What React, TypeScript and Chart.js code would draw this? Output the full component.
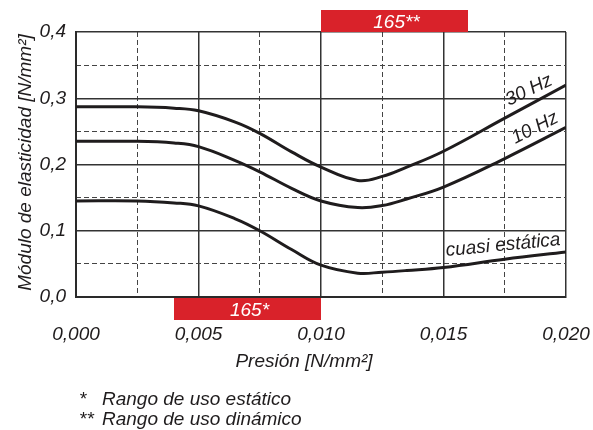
import React, { useEffect, useRef } from 'react';
import { Chart, registerables } from 'chart.js';

Chart.register(...registerables);

// ---- data ----
const pressure = [0, 0.0025, 0.004, 0.005, 0.0065, 0.0075, 0.0088, 0.010, 0.0115, 0.0125, 0.0135, 0.015, 0.0175, 0.020];
const hz30 = [0.287, 0.287, 0.285, 0.281, 0.264, 0.247, 0.219, 0.196, 0.176, 0.182, 0.196, 0.220, 0.270, 0.320];
const hz10 = [0.235, 0.235, 0.2325, 0.227, 0.206, 0.189, 0.164, 0.145, 0.135, 0.138, 0.148, 0.166, 0.209, 0.256];
const quasi = [0.145, 0.145, 0.142, 0.1375, 0.118, 0.100, 0.0716, 0.048, 0.036, 0.0375, 0.040, 0.0445, 0.057, 0.068];

const xTickLabels = ['0,000', '0,005', '0,010', '0,015', '0,020'];
const yTickLabels = ['0,0', '0,1', '0,2', '0,3', '0,4'];

const seriesNames = ['30 Hz', '10 Hz', 'cuasi estática'];
// curve label anchors (data units) and angles (deg)
const labelX = [0.01849, 0.01873, 0.01743];
const labelY = [0.312, 0.255, 0.078];
const labelAngle = [-26, -27, -5.5];

// usage ranges
const rangeNames = ['165*', '165**'];
const rangeStart = [0.004, 0.010];
const rangeEnd = [0.010, 0.016];
const rangeSide = ['bottom', 'top'];

const xTitle = 'Presión [N/mm²]';
const yTitle = 'Módulo de elasticidad [N/mm²]';
const footnoteMarks = ['*', '**'];
const footnotes = ['Rango de uso estático', 'Rango de uso dinámico'];

const FONT = "'Liberation Sans', Arial, Helvetica, sans-serif";
const INK = '#1f1c1d';
const RED = '#d9222a';

const isMultiple = (v: number, step: number) => Math.abs(v / step - Math.round(v / step)) < 1e-6;

const overlay = {
  id: 'overlay',
  afterDatasetsDraw(chart: any) {
    const ctx = chart.ctx;
    const xs = chart.scales.x;
    const ys = chart.scales.y;
    const area = chart.chartArea;
    ctx.save();
    // curve labels
    ctx.fillStyle = INK;
    ctx.font = `italic 19px ${FONT}`;
    ctx.textAlign = 'center';
    ctx.textBaseline = 'middle';
    seriesNames.forEach((name, i) => {
      const px = xs.getPixelForValue(labelX[i]);
      const py = ys.getPixelForValue(labelY[i]);
      ctx.save();
      ctx.translate(px, py);
      ctx.rotate((labelAngle[i] * Math.PI) / 180);
      ctx.fillText(name, 0, 0);
      ctx.restore();
    });
    // range boxes
    rangeNames.forEach((name, i) => {
      const x0 = xs.getPixelForValue(rangeStart[i]);
      const x1 = xs.getPixelForValue(rangeEnd[i]);
      const h = 22;
      const y0 = rangeSide[i] === 'top' ? area.top - h : area.bottom + 1;
      ctx.fillStyle = RED;
      ctx.fillRect(x0, y0, x1 - x0, h);
      ctx.fillStyle = '#ffffff';
      ctx.font = `italic 19px ${FONT}`;
      ctx.textAlign = 'center';
      ctx.textBaseline = 'alphabetic';
      ctx.fillText(name, (x0 + x1) / 2 + 2, y0 + h - 4);
    });
    ctx.restore();
  },
  afterDraw(chart: any) {
    const ctx = chart.ctx;
    const area = chart.chartArea;
    ctx.save();
    ctx.fillStyle = INK;
    ctx.font = `italic 19px ${FONT}`;
    ctx.textBaseline = 'alphabetic';
    // x title
    ctx.textAlign = 'center';
    ctx.fillText(xTitle, 304, area.bottom + 70);
    // y title
    ctx.save();
    ctx.translate(31, (area.top + area.bottom) / 2 - 2);
    ctx.rotate(-Math.PI / 2);
    ctx.fillText(yTitle, 0, 0);
    ctx.restore();
    // footnotes
    ctx.textAlign = 'left';
    footnotes.forEach((t, i) => {
      const by = 405 + i * 20;
      ctx.fillText(footnoteMarks[i], 79, by);
      ctx.fillText(t, 102, by);
    });
    ctx.restore();
  },
};

export default function App() {
  const ref = useRef<HTMLCanvasElement>(null);
  useEffect(() => {
    document.body.style.margin = '0';
    const canvas = ref.current;
    if (!canvas) return;
    const mk = (vals: number[]) => pressure.map((x, i) => ({ x, y: vals[i] }));
    const ds = (label: string, vals: number[]) => ({
      label,
      data: mk(vals),
      borderColor: INK,
      borderWidth: 3,
      pointRadius: 0,
      fill: false,
      tension: 0.4,
    });
    const chart = new Chart(canvas, {
      type: 'line',
      data: {
        datasets: [ds(seriesNames[0], hz30), ds(seriesNames[1], hz10), ds(seriesNames[2], quasi)],
      },
      options: {
        responsive: false,
        animation: false,
        layout: { padding: { left: 0, right: 27, top: 32, bottom: 0 } },
        plugins: { legend: { display: false }, tooltip: { enabled: false } },
        scales: {
          x: {
            type: 'linear',
            min: 0,
            max: 0.02,
            ticks: {
              stepSize: 0.005,
              color: INK,
              font: { family: FONT, size: 19, style: 'italic' },
              padding: 26,
              maxRotation: 0,
              autoSkip: false,
              callback: (_v: any, i: number) => xTickLabels[i],
            },
            grid: { color: '#333', lineWidth: 1.5, drawTicks: false },
            border: { display: true, color: '#2a2a2a', width: 2 },
            afterFit: (s: any) => { s.height = 133; s.paddingLeft = 0; s.paddingRight = 0; },
          },
          x2: {
            type: 'linear',
            position: 'top',
            min: 0,
            max: 0.02,
            ticks: { stepSize: 0.0025, display: false },
            grid: {
              drawTicks: false,
              lineWidth: 1,
              color: (c: any) => (c.tick && isMultiple(c.tick.value, 0.005) ? 'rgba(0,0,0,0)' : '#444'),
            },
            border: { display: false, dash: [5, 3] },
            afterFit: (s: any) => { s.height = 0; s.paddingLeft = 0; s.paddingRight = 0; },
          },
          y: {
            type: 'linear',
            min: 0,
            max: 0.4,
            ticks: {
              stepSize: 0.1,
              color: INK,
              font: { family: FONT, size: 19, style: 'italic' },
              padding: 10,
              callback: (_v: any, i: number) => yTickLabels[i],
            },
            grid: { color: '#333', lineWidth: 1.5, drawTicks: false },
            border: { display: true, color: '#2a2a2a', width: 2 },
            afterFit: (s: any) => { s.width = 76; s.paddingTop = 0; s.paddingBottom = 0; },
          },
          y2: {
            type: 'linear',
            position: 'right',
            min: 0,
            max: 0.4,
            ticks: { stepSize: 0.05, display: false },
            grid: {
              drawTicks: false,
              lineWidth: 1,
              color: (c: any) => (c.tick && isMultiple(c.tick.value, 0.1) ? 'rgba(0,0,0,0)' : '#444'),
            },
            border: { display: false, dash: [5, 3] },
            afterFit: (s: any) => { s.width = 0; s.paddingTop = 0; s.paddingBottom = 0; },
          },
        },
      },
      plugins: [overlay],
    });
    return () => chart.destroy();
  }, []);
  return (
    <canvas ref={ref} width={593} height={430} style={{ display: 'block', width: 593, height: 430 }} />
  );
}
